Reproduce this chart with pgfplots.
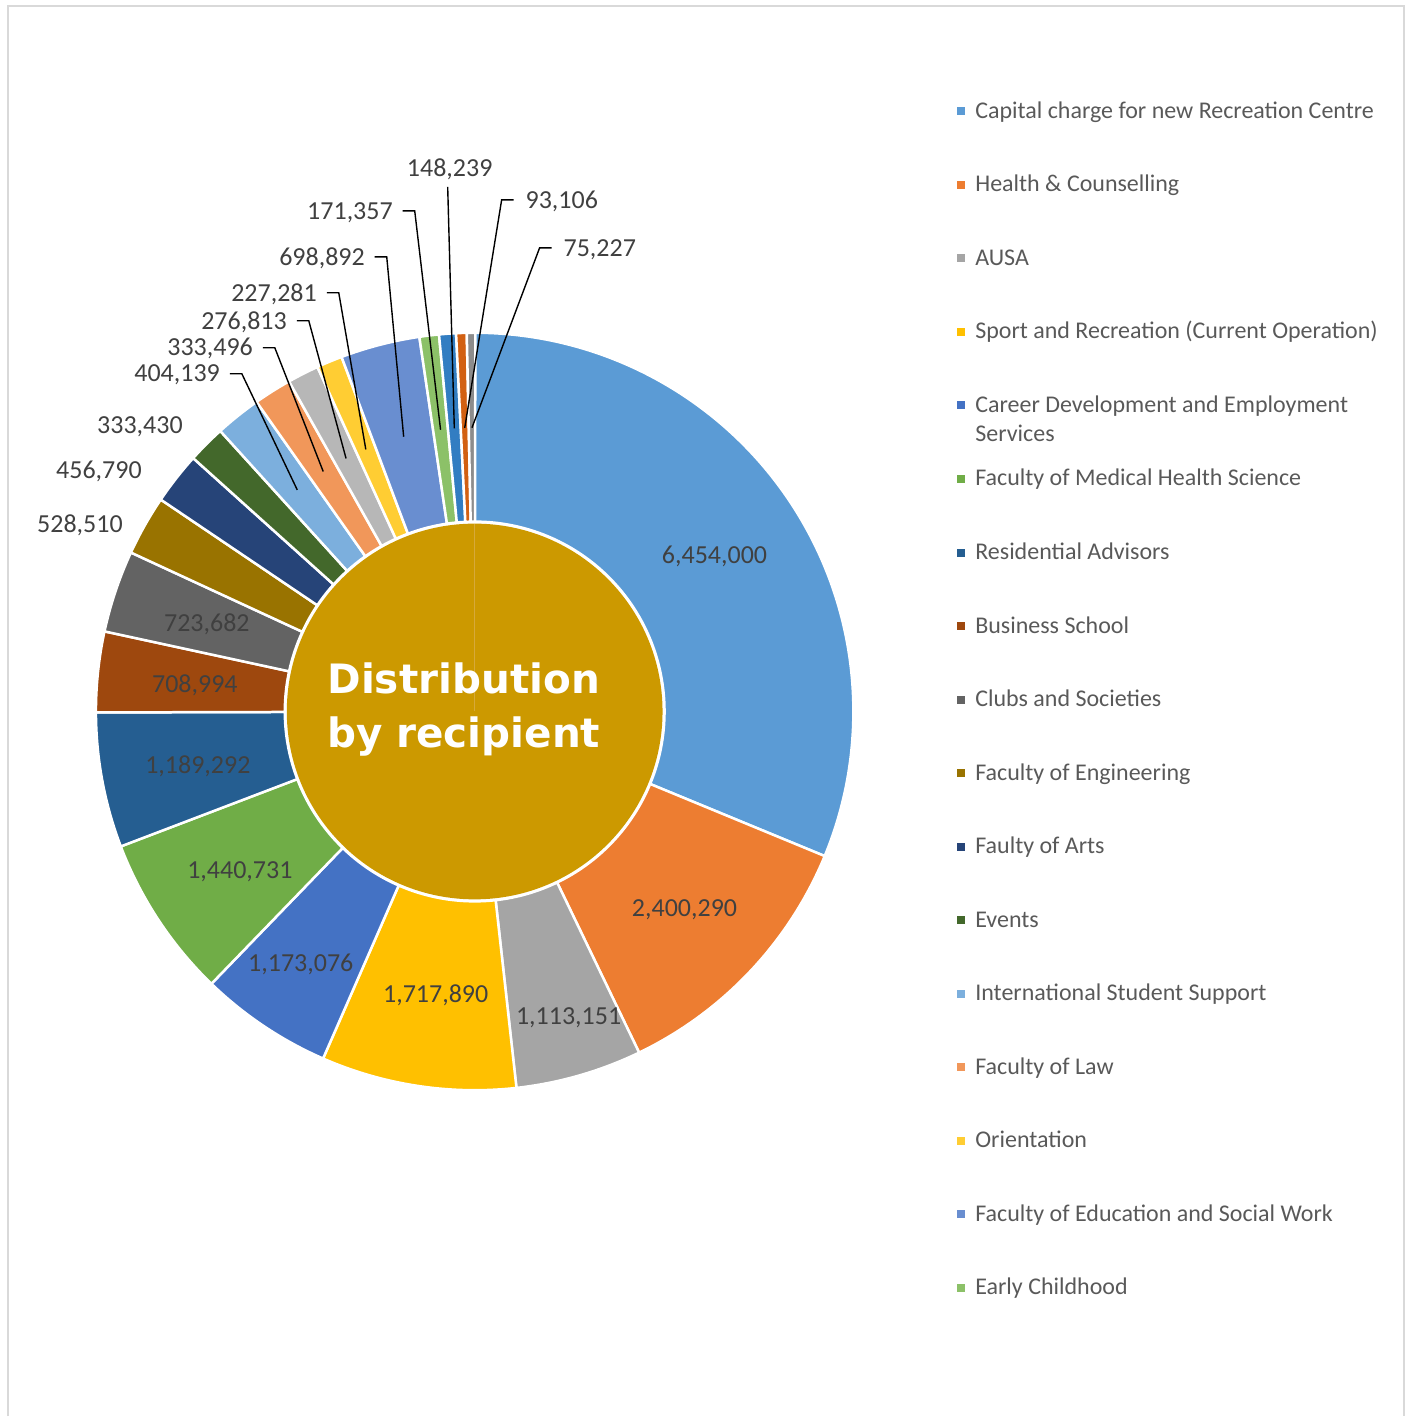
\documentclass[border=0pt]{standalone}
\usepackage{pgfplots}
\pgfplotsset{compat=1.18}
\usepackage{pgfplotstable}
\usepackage{fontspec}
\setmainfont{Carlito}
\newfontfamily\titlefont{DejaVu Sans}

\definecolor{s0}{HTML}{5B9BD5}
\definecolor{s1}{HTML}{ED7D31}
\definecolor{s2}{HTML}{A5A5A5}
\definecolor{s3}{HTML}{FFC000}
\definecolor{s4}{HTML}{4472C4}
\definecolor{s5}{HTML}{70AD47}
\definecolor{s6}{HTML}{255E91}
\definecolor{s7}{HTML}{9E480E}
\definecolor{s8}{HTML}{636363}
\definecolor{s9}{HTML}{997300}
\definecolor{s10}{HTML}{264478}
\definecolor{s11}{HTML}{43682B}
\definecolor{s12}{HTML}{7CAFDD}
\definecolor{s13}{HTML}{F1975A}
\definecolor{s14}{HTML}{B7B7B7}
\definecolor{s15}{HTML}{FFCD33}
\definecolor{s16}{HTML}{698ED0}
\definecolor{s17}{HTML}{8CC168}
\definecolor{s18}{HTML}{327DC2}
\definecolor{s19}{HTML}{D26012}
\definecolor{s20}{HTML}{8C8C8C}
\definecolor{gold}{HTML}{CC9900}
\definecolor{goldline}{HTML}{D6A93A}
\definecolor{labtext}{HTML}{404040}
\definecolor{legtext}{HTML}{595959}
\definecolor{frame}{HTML}{D9D9D9}

\tikzset{
  labelnode/.style={inner sep=0pt, outer sep=0pt, text height=16.5pt, text depth=0pt,
    font=\fontsize{26}{31}\selectfont, text=labtext},
  leader/.style={draw=black, line width=1.4pt},
}

% value, label kind (0 inside, 1 outside, 2 leader/text left, 3 leader/text right, 4 leader below text), label position (px)
\pgfplotstableread{
value   kind lx  ly
6454000 0    715 556
2400290 0    685 909
1113151 0    569 1017
1717890 0    436 995
1173076 0    301 964
1440731 0    240 871
1189292 0    198 766
708994  0    195 685
723682  0    207 624
528510  1    80  525
456790  1    99  471
333430  1    140 426
404139  2    230 374
333496  2    263 348
276813  2    297 321
227281  2    327 293
698892  2    375 257
171357  2    403 211
148239  4    450 168
93106   3    502 200
75227   3    540 248
}\slices

% cumulative sums (integer arithmetic, values are too large for pgfmath)
\xdef\cumsum{0}
\pgfplotsforeachungrouped \i in {0,...,20}{%
  \pgfplotstablegetelem{\i}{value}\of\slices
  \expandafter\xdef\csname val\i\endcsname{\pgfplotsretval}%
  \xdef\cumsum{\the\numexpr\cumsum+\pgfplotsretval\relax}%
  \expandafter\xdef\csname cum\i\endcsname{\cumsum}%
}
\xdef\prevang{90}
\pgfplotsforeachungrouped \i in {0,...,20}{%
  \edef\tmpc{\csname cum\i\endcsname}%
  \edef\frc{\the\numexpr\tmpc*16000/\cumsum\relax}% fraction in 1/16000
  \pgfmathparse{90-\frc*0.0225}%
  \expandafter\xdef\csname aS\i\endcsname{\prevang}%
  \expandafter\xdef\csname aE\i\endcsname{\pgfmathresult}%
  \xdef\prevang{\pgfmathresult}%
}

% geometry of each slice and its label
\pgfplotsforeachungrouped \i in {0,...,20}{%
  \pgfplotstablegetelem{\i}{kind}\of\slices \edef\kk{\pgfplotsretval}%
  \pgfplotstablegetelem{\i}{lx}\of\slices \edef\llx{\pgfplotsretval}%
  \pgfplotstablegetelem{\i}{ly}\of\slices \pgfmathsetmacro\lly{1417-\pgfplotsretval}%
  \edef\tS{\csname aS\i\endcsname}\edef\tE{\csname aE\i\endcsname}%
  \pgfmathsetmacro\tM{(\tS+\tE)/2}%
  \pgfmathsetmacro\pxo{475+379*cos(\tS)}%
  \pgfmathsetmacro\pyo{705+379*sin(\tS)}%
  \pgfmathsetmacro\pxi{475+190*cos(\tE)}%
  \pgfmathsetmacro\pyi{705+190*sin(\tE)}%
  \pgfmathsetmacro\pmx{475+284*cos(\tM)}%
  \pgfmathsetmacro\pmy{705+284*sin(\tM)}%
  \expandafter\xdef\csname xo\i\endcsname{\pxo}%
  \expandafter\xdef\csname yo\i\endcsname{\pyo}%
  \expandafter\xdef\csname xi\i\endcsname{\pxi}%
  \expandafter\xdef\csname yi\i\endcsname{\pyi}%
  \expandafter\xdef\csname mx\i\endcsname{\pmx}%
  \expandafter\xdef\csname my\i\endcsname{\pmy}%
  \expandafter\xdef\csname kind\i\endcsname{\kk}%
  \ifcase\kk\relax
    \expandafter\xdef\csname anc\i\endcsname{center}%
    \expandafter\xdef\csname tx\i\endcsname{\llx}%
    \expandafter\xdef\csname ty\i\endcsname{\lly}%
  \or
    \expandafter\xdef\csname anc\i\endcsname{center}%
    \expandafter\xdef\csname tx\i\endcsname{\llx}%
    \expandafter\xdef\csname ty\i\endcsname{\lly}%
  \or
    \pgfmathsetmacro\ttx{\llx-10}\pgfmathsetmacro\ppx{\llx+12}%
    \expandafter\xdef\csname anc\i\endcsname{east}%
    \expandafter\xdef\csname tx\i\endcsname{\ttx}%
    \expandafter\xdef\csname ty\i\endcsname{\lly}%
    \expandafter\xdef\csname pax\i\endcsname{\llx}%
    \expandafter\xdef\csname pay\i\endcsname{\lly}%
    \expandafter\xdef\csname pbx\i\endcsname{\ppx}%
    \expandafter\xdef\csname pby\i\endcsname{\lly}%
  \or
    \pgfmathsetmacro\ttx{\llx+24}\pgfmathsetmacro\ppx{\llx+12}%
    \expandafter\xdef\csname anc\i\endcsname{west}%
    \expandafter\xdef\csname tx\i\endcsname{\ttx}%
    \expandafter\xdef\csname ty\i\endcsname{\lly}%
    \expandafter\xdef\csname pax\i\endcsname{\ppx}%
    \expandafter\xdef\csname pay\i\endcsname{\lly}%
    \expandafter\xdef\csname pbx\i\endcsname{\llx}%
    \expandafter\xdef\csname pby\i\endcsname{\lly}%
  \or
    \pgfmathsetmacro\ppx{\llx-2}\pgfmathsetmacro\ppy{\lly-19}%
    \expandafter\xdef\csname anc\i\endcsname{center}%
    \expandafter\xdef\csname tx\i\endcsname{\llx}%
    \expandafter\xdef\csname ty\i\endcsname{\lly}%
    \expandafter\xdef\csname pax\i\endcsname{\ppx}%
    \expandafter\xdef\csname pay\i\endcsname{\ppy}%
    \expandafter\xdef\csname pbx\i\endcsname{\ppx}%
    \expandafter\xdef\csname pby\i\endcsname{\ppy}%
  \fi
}

\begin{document}
\begin{tikzpicture}
\begin{axis}[
  x=1pt, y=1pt, xmin=0, xmax=1410, ymin=0, ymax=1417,
  hide axis, clip=false,
  legend image code/.code={\fill[#1, draw=none] (0pt,-4pt) rectangle (8pt,4pt);},
  legend cell align=left,
  legend style={at={(0.67943,0.92852)}, anchor=north west, draw=none, fill=none,
    inner sep=0pt, outer sep=0pt, row sep=53.6pt, column sep=10pt,
    font=\fontsize{24}{28.7}\selectfont, text=legtext,
    nodes={inner sep=0pt, outer sep=0pt, text height=17pt, text depth=3pt}},
]
% full canvas
\path (axis cs:0,0) rectangle (axis cs:1410,1417);
% frame
\draw[frame, line width=2pt] (axis cs:8,0) -- (axis cs:8,1411) -- (axis cs:1405,1411) -- (axis cs:1405,0);

% ring slices
\pgfplotsinvokeforeach{0,...,20}{%
  \edef\temp{\noexpand\filldraw[fill=s#1, draw=white, line width=2.5pt]
    (axis cs:\csname xo#1\endcsname,\csname yo#1\endcsname)
    arc[start angle=\csname aS#1\endcsname, end angle=\csname aE#1\endcsname, radius=379pt]
    -- (axis cs:\csname xi#1\endcsname,\csname yi#1\endcsname)
    arc[start angle=\csname aE#1\endcsname, end angle=\csname aS#1\endcsname, radius=190pt] -- cycle;}%
  \temp
}

% centre disc
\fill[gold] (axis cs:475,705) circle[radius=188pt];
\draw[goldline, line width=0.8pt] (axis cs:475,705) -- (axis cs:475,893);
\node[anchor=base, inner sep=0pt, text=white, font=\titlefont\bfseries\fontsize{40.5}{48}\selectfont] at (axis cs:464,723) {Distribution};
\node[anchor=base, inner sep=0pt, text=white, font=\titlefont\bfseries\fontsize{40.5}{48}\selectfont] at (axis cs:464,669) {by recipient};

% labels and leader lines
\pgfplotsinvokeforeach{0,...,20}{%
  \edef\temp{\noexpand\node[labelnode, anchor=\csname anc#1\endcsname] at (axis cs:\csname tx#1\endcsname,\csname ty#1\endcsname) {\noexpand\pgfmathprintnumber[assume math mode=true,fixed,precision=0,1000 sep={,}]{\csname val#1\endcsname}};}%
  \temp
  \ifnum\csname kind#1\endcsname>1\relax
    \edef\temp{\noexpand\draw[leader] (axis cs:\csname pax#1\endcsname,\csname pay#1\endcsname) -- (axis cs:\csname pbx#1\endcsname,\csname pby#1\endcsname) -- (axis cs:\csname mx#1\endcsname,\csname my#1\endcsname);}%
    \temp
  \fi
}

% legend
\addlegendimage{fill=s0}\addlegendentry{Capital charge for new Recreation Centre}
\addlegendimage{fill=s1}\addlegendentry{Health \& Counselling}
\addlegendimage{fill=s2}\addlegendentry{AUSA}
\addlegendimage{fill=s3}\addlegendentry{Sport and Recreation (Current Operation)}
\addlegendimage{fill=s4}\addlegendentry{\begin{tabular}[t]{@{}l@{}}Career Development and Employment\\Services\end{tabular}}
\addlegendimage{fill=s5}\addlegendentry{Faculty of Medical Health Science}
\addlegendimage{fill=s6}\addlegendentry{Residential Advisors}
\addlegendimage{fill=s7}\addlegendentry{Business School}
\addlegendimage{fill=s8}\addlegendentry{Clubs and Societies}
\addlegendimage{fill=s9}\addlegendentry{Faculty of Engineering}
\addlegendimage{fill=s10}\addlegendentry{Faulty of Arts}
\addlegendimage{fill=s11}\addlegendentry{Events}
\addlegendimage{fill=s12}\addlegendentry{International Student Support}
\addlegendimage{fill=s13}\addlegendentry{Faculty of Law}
\addlegendimage{fill=s15}\addlegendentry{Orientation}
\addlegendimage{fill=s16}\addlegendentry{Faculty of Education and Social Work}
\addlegendimage{fill=s17}\addlegendentry{Early Childhood}
\end{axis}
\end{tikzpicture}
\end{document}
